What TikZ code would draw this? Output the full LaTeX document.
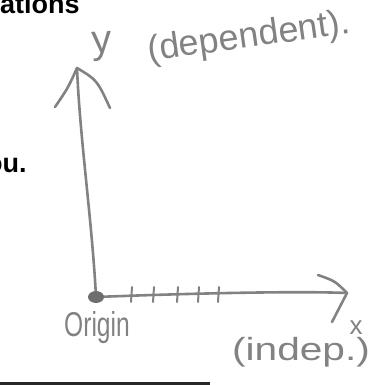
\documentclass[tikz,border=0pt]{standalone}
\usepackage{fontspec}
\setmainfont{Liberation Sans}
\usepackage{xcolor}
\definecolor{pencil}{RGB}{130,130,130}
\definecolor{inkbar}{RGB}{40,40,40}

\begin{document}
\begin{tikzpicture}[x=1pt,y=-1pt,
        hand/.style={pencil,line width=2.6pt,line cap=round,line join=round},
        handtext/.style={pencil,inner sep=0pt},
        pagetext/.style={black,inner sep=0pt,anchor=base west,font=\fontsize{27}{27}\selectfont\bfseries}]
        \useasboundingbox (0,0) rectangle (377,385);
        \node[pagetext] (words) at (0,14) {ations};
        \node[pagetext] (you) at (-14,172) {ou.};
        \fill[inkbar] (0,381.5) rectangle (210,385);
        \coordinate (origin) at (96,297);
        \coordinate (ytip) at (77,68);
        \coordinate (xtip) at (347,293);
        \draw[hand] (origin) .. controls (92,220) and (80,140) .. (ytip);
        \draw[hand] (55,107) .. controls (68,88) .. (ytip) .. controls (97,80) .. (110,108);
        \draw[hand] (origin) .. controls (200,293) and (300,291) .. (xtip);
        \draw[hand] (318,275) .. controls (335,281) .. (xtip) -- (332,322);
        \foreach \t in {131,153,177,198,218}{
            \draw[hand,line width=2pt] (\t+1,287) -- (\t,302);
        }
        \fill[pencil!85!black] (origin) ellipse (8pt and 6pt);
        \node[handtext,anchor=base,rotate=3] (ylab) at (102,53) {\fontsize{40}{40}\selectfont y};
        \node[handtext,rotate=8] (ydesc) at (249,38) {\fontsize{36}{36}\selectfont (dependent).};
        \node[handtext,anchor=base] (orig) at (97,336) {\fontsize{30}{30}\selectfont\scalebox{0.82}[1.15]{Origin}};
        \node[handtext] (xlab) at (356,328) {\fontsize{26}{26}\selectfont x};
        \node[handtext,anchor=base] (indep) at (301,360) {\fontsize{32}{32}\selectfont\scalebox{1.27}[1]{(indep.)}};
\end{tikzpicture}
\end{document}
